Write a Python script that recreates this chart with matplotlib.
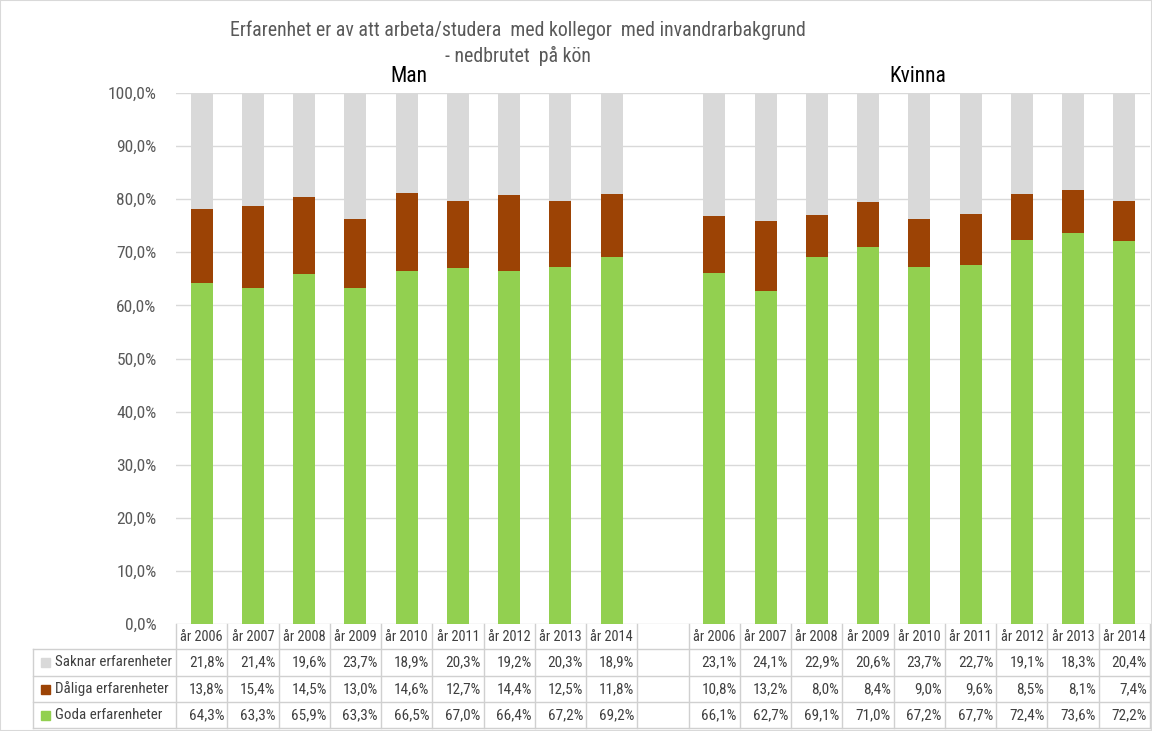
import matplotlib.pyplot as plt
import matplotlib.transforms as mtransforms
from matplotlib import font_manager
import numpy as np

available = {f.name for f in font_manager.fontManager.ttflist}
for fam in ['Liberation Sans Narrow', 'Roboto Condensed', 'Open Sans Condensed', 'Roboto']:
    if fam in available:
        break
plt.rcParams['font.family'] = [fam, 'DejaVu Sans']

years = ["år 2006", "år 2007", "år 2008", "år 2009", "år 2010",
         "år 2011", "år 2012", "år 2013", "år 2014"]
series = ["Saknar erfarenheter", "Dåliga erfarenheter", "Goda erfarenheter"]

man_saknar = [21.8, 21.4, 19.6, 23.7, 18.9, 20.3, 19.2, 20.3, 18.9]
man_daliga = [13.8, 15.4, 14.5, 13.0, 14.6, 12.7, 14.4, 12.5, 11.8]
man_goda = [64.3, 63.3, 65.9, 63.3, 66.5, 67.0, 66.4, 67.2, 69.2]

kv_saknar = [23.1, 24.1, 22.9, 20.6, 23.7, 22.7, 19.1, 18.3, 20.4]
kv_daliga = [10.8, 13.2, 8.0, 8.4, 9.0, 9.6, 8.5, 8.1, 7.4]
kv_goda = [66.1, 62.7, 69.1, 71.0, 67.2, 67.7, 72.4, 73.6, 72.2]

colors = {"Saknar erfarenheter": "#D9D9D9",
          "Dåliga erfarenheter": "#9C4305",
          "Goda erfarenheter": "#92D050"}

W, H = 1152, 731
fig = plt.figure(figsize=(W / 100, H / 100), dpi=100)
ax = fig.add_axes([176 / W, 1 - 624 / H, (1150 - 176) / W, (624 - 93) / H])

xm = np.arange(9)
xk = np.arange(9) + 10
bw = 0.43
for xs, g, d, s in [(xm, man_goda, man_daliga, man_saknar), (xk, kv_goda, kv_daliga, kv_saknar)]:
    g, d, s = np.array(g), np.array(d), np.array(s)
    ax.bar(xs, g, bw, color=colors["Goda erfarenheter"], zorder=3)
    ax.bar(xs, d, bw, bottom=g, color=colors["Dåliga erfarenheter"], zorder=3)
    ax.bar(xs, s, bw, bottom=g + d, color=colors["Saknar erfarenheter"], zorder=3)

ax.set_xlim(-0.5, 18.5)
ax.set_ylim(0, 100)
ax.set_yticks(np.arange(0, 101, 10))
ax.set_yticklabels([f"{v:.1f}%".replace(".", ",") for v in np.arange(0, 101, 10)],
                   fontsize=12.5, color="#595959")
ax.tick_params(axis="y", length=0, pad=14)
ax.set_xticks([])
ax.grid(axis="y", color="#D9D9D9", linewidth=1, zorder=0)
for sp in ax.spines.values():
    sp.set_visible(False)

# titles
fig.text(518 / W, 1 - 30 / H, "Erfarenhet er av att arbeta/studera  med kollegor  med invandrarbakgrund",
         ha="center", va="center", fontsize=14.3, color="#595959")
fig.text(518 / W, 1 - 56 / H, "- nedbrutet  på kön", ha="center", va="center",
         fontsize=14.3, color="#595959")
fig.text(409 / W, 1 - 77 / H, "Man", ha="center", va="center", fontsize=15.5, color="black")
fig.text(918 / W, 1 - 77 / H, "Kvinna", ha="center", va="center", fontsize=15.5, color="black")

# data table
trans = mtransforms.blended_transform_factory(ax.transData, fig.transFigure)


def fy(py):
    return 1 - py / H


line_c = "#D0D0D0"
rows_y = [624, 649, 676, 702, 728]
bounds = np.arange(-0.5, 19, 1.0)
for b in bounds:
    fig.add_artist(plt.Line2D([b, b], [fy(624), fy(728)], transform=trans,
                              color=line_c, linewidth=1))
for ry in rows_y[1:]:
    fig.add_artist(plt.Line2D([33 / W, 1150 / W], [fy(ry), fy(ry)],
                              transform=fig.transFigure, color=line_c, linewidth=1))
fig.add_artist(plt.Line2D([33 / W, 33 / W], [fy(649), fy(728)],
                          transform=fig.transFigure, color=line_c, linewidth=1))

for i, yr in enumerate(years):
    for x in (xm[i], xk[i]):
        fig.text(x, fy(637), yr, transform=trans, ha="center", va="center",
                 fontsize=10.4, color="#404040")

table_rows = [("Saknar erfarenheter", man_saknar, kv_saknar),
              ("Dåliga erfarenheter", man_daliga, kv_daliga),
              ("Goda erfarenheter", man_goda, kv_goda)]
for r, (name, mv, kv) in enumerate(table_rows):
    cy = (rows_y[r + 1] + rows_y[r + 2]) / 2
    fig.add_artist(plt.Rectangle((41 / W, fy(cy) - 4.5 / H), 9 / W, 9 / H,
                                 transform=fig.transFigure, color=colors[name]))
    fig.text(55 / W, fy(cy), name, ha="left", va="center", fontsize=10.8, color="#404040")
    for i in range(9):
        for x, v in ((xm[i], mv[i]), (xk[i], kv[i])):
            fig.text(x + 0.44, fy(cy), f"{v:.1f}%".replace(".", ","), transform=trans,
                     ha="right", va="center", fontsize=11, color="#404040")

# outer frame
fig.add_artist(plt.Rectangle((0, 0), 1, 1, transform=fig.transFigure, fill=False,
                             edgecolor="#D9D9D9", linewidth=1.5))

fig.savefig("out.png", dpi=100)
